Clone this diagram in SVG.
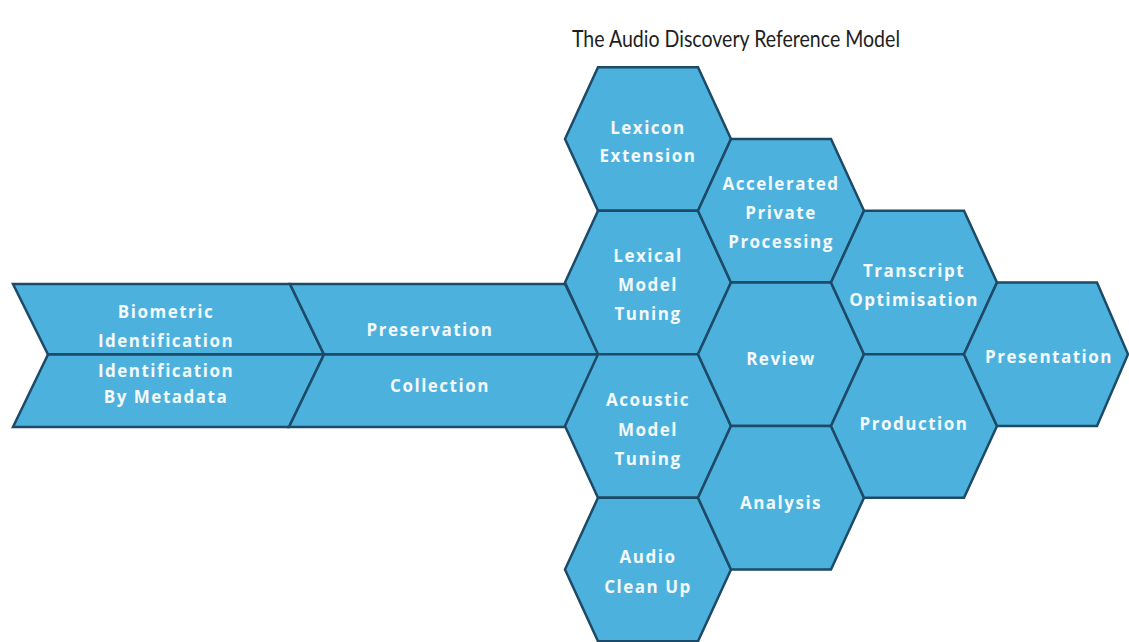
<svg xmlns="http://www.w3.org/2000/svg" width="1129" height="642" viewBox="0 0 1129 642">
<style>
.shape{fill:#4db1dd;stroke:#1d4a66;stroke-width:2.5;stroke-linejoin:miter}
.lbl{font-family:"Open Sans","Liberation Sans",sans-serif;font-weight:700;font-size:17px;fill:#f3f9fc;text-anchor:middle;letter-spacing:1.5px}
.title{font-family:Lato,"Open Sans","Liberation Sans",sans-serif;font-size:24px;fill:#1e1e1e;text-anchor:middle}
</style>
<rect width="1129" height="642" fill="#ffffff"/>
<text class="title" x="736" y="47" textLength="328" lengthAdjust="spacingAndGlyphs">The Audio Discovery Reference Model</text>

<g id="biometric">
<polygon class="shape" points="13,284 290,284 324,354.5 48,354.5"/>
<text class="lbl" x="166" y="318">Biometric</text>
<text class="lbl" x="166" y="347">Identification</text>
</g>
<g id="metadata">
<polygon class="shape" points="48,354.5 324,354.5 289,427 13,427"/>
<text class="lbl" x="166" y="377">Identification</text>
<text class="lbl" x="166" y="403">By Metadata</text>
</g>
<g id="preservation">
<polygon class="shape" points="290,284 565,284 599,354.5 324,354.5"/>
<text class="lbl" x="430" y="336">Preservation</text>
</g>
<g id="collection">
<polygon class="shape" points="324,354.5 599,354.5 565,427 289,427"/>
<text class="lbl" x="440" y="392">Collection</text>
</g>

<g id="lexicon-extension">
<polygon class="shape" points="565,139 598,67.25 698,67.25 731,139 698,210.75 598,210.75"/>
<text class="lbl" x="648" y="134">Lexicon</text>
<text class="lbl" x="648" y="162">Extension</text>
</g>
<g id="lexical-model-tuning">
<polygon class="shape" points="565,282.5 598,210.75 698,210.75 731,282.5 698,354.25 598,354.25"/>
<text class="lbl" x="648" y="262">Lexical</text>
<text class="lbl" x="648" y="291">Model</text>
<text class="lbl" x="648" y="320">Tuning</text>
</g>
<g id="acoustic-model-tuning">
<polygon class="shape" points="565,426 598,354.25 698,354.25 731,426 698,497.75 598,497.75"/>
<text class="lbl" x="648" y="406">Acoustic</text>
<text class="lbl" x="648" y="436">Model</text>
<text class="lbl" x="648" y="465">Tuning</text>
</g>
<g id="audio-clean-up">
<polygon class="shape" points="565,569.5 598,497.75 698,497.75 731,569.5 698,641.25 598,641.25"/>
<text class="lbl" x="648" y="563">Audio</text>
<text class="lbl" x="648" y="593">Clean Up</text>
</g>

<g id="accelerated-private-processing">
<polygon class="shape" points="698,210.75 731,139 831,139 864,210.75 831,282.5 731,282.5"/>
<text class="lbl" x="781" y="190">Accelerated</text>
<text class="lbl" x="781" y="219">Private</text>
<text class="lbl" x="781" y="248">Processing</text>
</g>
<g id="review">
<polygon class="shape" points="698,354.25 731,282.5 831,282.5 864,354.25 831,426 731,426"/>
<text class="lbl" x="781" y="365">Review</text>
</g>
<g id="analysis">
<polygon class="shape" points="698,497.75 731,426 831,426 864,497.75 831,569.5 731,569.5"/>
<text class="lbl" x="781" y="509">Analysis</text>
</g>

<g id="transcript-optimisation">
<polygon class="shape" points="831,282.5 864,210.75 964,210.75 997,282.5 964,354.25 864,354.25"/>
<text class="lbl" x="914" y="277">Transcript</text>
<text class="lbl" x="914" y="306">Optimisation</text>
</g>
<g id="production">
<polygon class="shape" points="831,426 864,354.25 964,354.25 997,426 964,497.75 864,497.75"/>
<text class="lbl" x="914" y="430">Production</text>
</g>

<g id="presentation">
<polygon class="shape" points="964,354.25 997,282.5 1097,282.5 1128,354.25 1097,426 997,426"/>
<text class="lbl" x="1049" y="363">Presentation</text>
</g>

<g id="connectors"></g>
</svg>
